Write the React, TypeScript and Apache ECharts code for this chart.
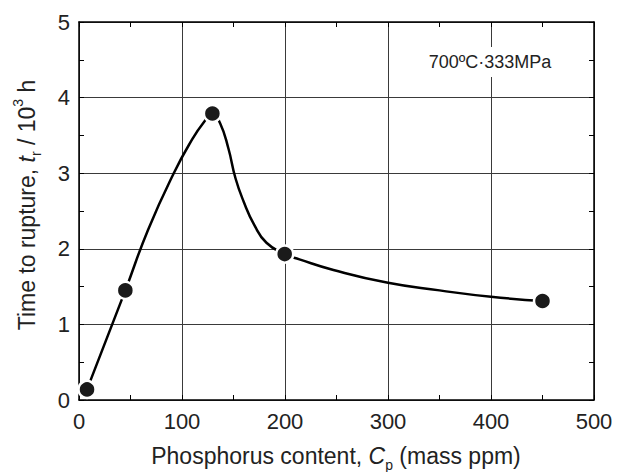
import React, { useEffect, useRef } from "react";
import * as echarts from "echarts";

// Axis ticks
const xTicks = [0, 100, 200, 300, 400, 500];
const yTicks = [0, 1, 2, 3, 4, 5];

// Measured data points (phosphorus content in mass ppm, time to rupture in 10^3 h)
const phosphorus = [7.8, 45, 129.5, 199.7, 450];
const ruptureTime = [0.14, 1.45, 3.79, 1.93, 1.31];

// Guide curve
const curveX = [7.8, 45, 67, 92, 110, 121, 129.5, 137, 145, 152, 160, 170, 182, 199.7, 214, 247, 300, 350, 400, 450];
const curveY = [0.14, 1.45, 2.25, 3.0, 3.45, 3.67, 3.79, 3.66, 3.33, 2.93, 2.62, 2.32, 2.08, 1.93, 1.86, 1.72, 1.55, 1.45, 1.365, 1.31];

const conditionLabel = "700ºC·333MPa";

const FONT = "'Liberation Sans', Arial, Helvetica, sans-serif";
const TEXT = "#222";

export default function App() {
  const ref = useRef<HTMLDivElement>(null);

  useEffect(() => {
    if (!ref.current) return;
    const chart = echarts.init(ref.current, undefined, { renderer: "svg" });

    const xMin = xTicks[0];
    const xMax = xTicks[xTicks.length - 1];
    const xInt = xTicks[1] - xTicks[0];
    const yMin = yTicks[0];
    const yMax = yTicks[yTicks.length - 1];
    const yInt = yTicks[1] - yTicks[0];

    const frameLine = { show: true, onZero: false, lineStyle: { color: "#000", width: 1.5 } };
    const tick = { show: true, inside: true, length: 5, lineStyle: { color: "#000", width: 1 } };
    const minor = { show: true, splitNumber: 2, length: 5, lineStyle: { color: "#000", width: 1 } };

    const baseX = {
      type: "value" as const,
      min: xMin,
      max: xMax,
      interval: xInt,
      axisLine: frameLine,
      axisTick: tick,
      minorTick: minor,
    };
    const baseY = {
      type: "value" as const,
      min: yMin,
      max: yMax,
      interval: yInt,
      axisLine: frameLine,
      axisTick: tick,
      minorTick: minor,
    };

    const rich = {
      it: { fontStyle: "italic", fontSize: 23, fontFamily: FONT, color: TEXT, lineHeight: 32 },
      sub: { fontSize: 14, fontFamily: FONT, color: TEXT, lineHeight: 14, verticalAlign: "bottom" },
      sup: { fontSize: 14, fontFamily: FONT, color: TEXT, lineHeight: 18, verticalAlign: "top" },
    };

    chart.setOption({
      animation: false,
      backgroundColor: "#fff",
      grid: { left: 79, right: 23, top: 22, bottom: 72, containLabel: false },
      xAxis: [
        {
          ...baseX,
          position: "bottom",
          axisLabel: {
            show: true,
            margin: 10,
            fontSize: 22,
            fontFamily: FONT,
            color: TEXT,
          },
          splitLine: { show: true, lineStyle: { color: "#3a3a3a", width: 1 } },
        },
        {
          ...baseX,
          position: "top",
          axisLabel: { show: false },
          splitLine: { show: false },
        },
      ],
      yAxis: [
        {
          ...baseY,
          position: "left",
          axisLabel: {
            show: true,
            margin: 9,
            fontSize: 22,
            fontFamily: FONT,
            color: TEXT,
          },
          splitLine: { show: true, lineStyle: { color: "#3a3a3a", width: 1 } },
        },
        {
          ...baseY,
          position: "right",
          axisLabel: { show: false },
          splitLine: { show: false },
        },
      ],
      graphic: [
        {
          type: "text",
          x: 336,
          y: 456,
          z: 10,
          style: {
            text: "Phosphorus content, {it|C}{sub|p} (mass ppm)",
            fontSize: 23,
            fontFamily: FONT,
            fill: TEXT,
            align: "center",
            verticalAlign: "middle",
            lineHeight: 32,
            rich,
          },
        },
        {
          type: "text",
          x: 27,
          y: 205,
          rotation: Math.PI / 2,
          z: 10,
          style: {
            text: "Time to rupture, {it|t}{sub|r} / 10{sup|3} h",
            fontSize: 23,
            fontFamily: FONT,
            fill: TEXT,
            align: "center",
            verticalAlign: "middle",
            lineHeight: 32,
            rich,
          },
        },
        {
          type: "text",
          x: 490,
          y: 62,
          z: 10,
          style: {
            text: conditionLabel,
            fontSize: 18,
            fontFamily: FONT,
            fill: TEXT,
            align: "center",
            verticalAlign: "middle",
            backgroundColor: "#fff",
            padding: [6, 4, 6, 4],
          },
        },
      ],
      series: [
        {
          type: "line",
          data: curveX.map((x, i) => [x, curveY[i]]),
          smooth: 0.5,
          showSymbol: false,
          symbol: "none",
          lineStyle: { color: "#000", width: 2.5 },
          z: 2,
        },
        {
          type: "scatter",
          data: phosphorus.map((x, i) => [x, ruptureTime[i]]),
          symbol: "circle",
          symbolSize: 17,
          itemStyle: { color: "#1a1a1a", borderColor: "#fff", borderWidth: 2.5, opacity: 1 },
          z: 3,
        },
      ],
    });

    return () => chart.dispose();
  }, []);

  return (
    <div
      ref={ref}
      style={{ position: "fixed", left: 0, top: 0, width: 617, height: 472, background: "#fff" }}
    />
  );
}
